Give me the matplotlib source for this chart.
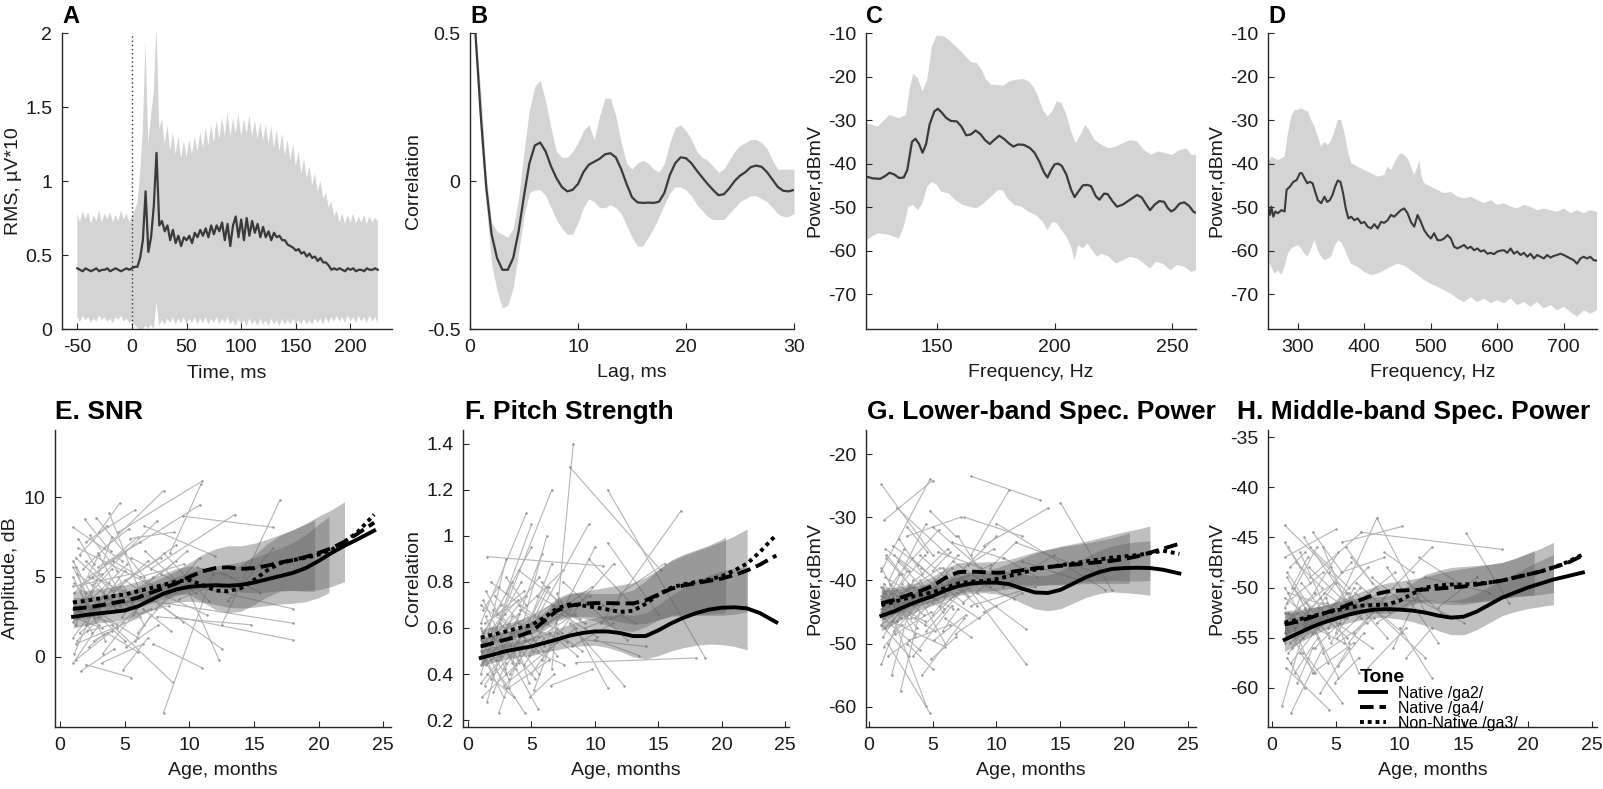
import numpy as np
import matplotlib
matplotlib.use('Agg')
import matplotlib.pyplot as plt
from matplotlib.ticker import FuncFormatter
from matplotlib.lines import Line2D

plt.rcParams['font.family'] = ['Liberation Sans', 'DejaVu Sans']
plt.rcParams['axes.unicode_minus'] = False

# ---------------- Panel A: RMS over time ----------------
A_mean = [0.41,0.40,0.39,0.41,0.40,0.39,0.40,0.41,0.39,0.40,0.40,0.41,0.39,0.40,0.41,0.40,0.39,0.40,0.41,0.40,0.41,0.42,0.42,
          0.48,0.60,0.93,0.52,0.62,0.83,1.19,0.70,0.73,0.66,0.70,0.60,0.67,0.58,0.63,0.56,0.62,0.60,0.63,0.58,0.65,0.62,
          0.67,0.63,0.68,0.62,0.70,0.64,0.70,0.66,0.72,0.60,0.71,0.56,0.70,0.76,0.62,0.74,0.60,0.75,0.63,0.73,0.65,0.71,
          0.62,0.69,0.62,0.66,0.60,0.65,0.62,0.63,0.60,0.60,0.57,0.56,0.55,0.53,0.54,0.51,0.52,0.49,0.51,0.48,0.49,0.46,
          0.48,0.45,0.45,0.43,0.40,0.41,0.40,0.41,0.40,0.39,0.41,0.40,0.41,0.39,0.40,0.40,0.39,0.41,0.40,0.40,0.41,0.40]
A_upper = [0.78,0.72,0.80,0.74,0.79,0.71,0.77,0.73,0.80,0.72,0.78,0.74,0.79,0.72,0.77,0.73,0.80,0.74,0.78,0.72,0.76,0.80,0.85,
           1.05,1.35,1.95,1.25,1.45,1.60,2.05,1.35,1.42,1.25,1.38,1.20,1.33,1.18,1.30,1.15,1.27,1.16,1.28,1.18,1.30,1.20,
           1.33,1.22,1.36,1.24,1.38,1.26,1.41,1.28,1.43,1.30,1.46,1.30,1.42,1.32,1.45,1.30,1.42,1.32,1.44,1.30,1.41,1.28,
           1.40,1.27,1.38,1.25,1.37,1.22,1.34,1.20,1.32,1.17,1.28,1.14,1.25,1.10,1.20,1.05,1.15,1.02,1.10,0.97,1.05,0.93,
           1.00,0.88,0.92,0.82,0.86,0.76,0.80,0.72,0.78,0.71,0.77,0.72,0.78,0.71,0.76,0.72,0.77,0.71,0.76,0.72,0.75,0.73]
A_lower = [0.08,0.05,0.09,0.06,0.08,0.04,0.07,0.05,0.09,0.06,0.08,0.05,0.07,0.04,0.08,0.06,0.09,0.05,0.07,0.04,0.05,0.03,0.01,
           0.00,0.00,0.02,0.00,0.03,0.00,0.18,0.02,0.06,0.03,0.07,0.04,0.08,0.03,0.07,0.04,0.08,0.03,0.07,0.04,
           0.08,0.03,0.07,0.04,0.08,0.03,0.07,0.04,0.08,0.03,0.07,0.04,0.08,0.03,0.06,0.02,0.07,0.03,0.06,0.02,
           0.07,0.03,0.06,0.02,0.07,0.03,0.06,0.02,0.07,0.03,0.06,0.02,0.07,0.03,0.06,0.03,0.07,0.03,0.06,0.03,
           0.07,0.03,0.06,0.03,0.07,0.04,0.07,0.03,0.08,0.04,0.08,0.05,0.09,0.05,0.08,0.04,0.09,0.05,0.08,0.04,
           0.09,0.05,0.08,0.04,0.09,0.05,0.08,0.04]
A_t_start, A_t_end = -50, 225

# ---------------- Panel B: autocorrelation ----------------
B_lag = [0.5,1.0,1.5,2.0,2.5,3.0,3.5,4.0,4.5,5.0,5.5,6.0,6.5,7.0,7.5,8.0,8.5,9.0,9.5,10.0,
         10.5,11.0,11.5,12.0,12.5,13.0,13.5,14.0,14.5,15.0,15.5,16.0,16.5,17.0,17.5,18.0,18.5,19.0,19.5,20.0,
         20.5,21.0,21.5,22.0,22.5,23.0,23.5,24.0,24.5,25.0,25.5,26.0,26.5,27.0,27.5,28.0,28.5,29.0,29.5,30.0]
B_mean = [0.50,0.22,-0.02,-0.18,-0.26,-0.30,-0.30,-0.26,-0.17,-0.05,0.06,0.12,0.13,0.10,0.05,0.01,-0.02,-0.035,-0.03,-0.01,
          0.03,0.055,0.065,0.075,0.09,0.094,0.08,0.04,-0.01,-0.055,-0.072,-0.074,-0.073,-0.074,-0.07,-0.04,0.02,0.06,0.08,0.077,
          0.06,0.035,0.012,-0.01,-0.03,-0.048,-0.045,-0.025,0.0,0.018,0.03,0.047,0.052,0.048,0.03,0.005,-0.02,-0.033,-0.035,-0.03]
B_upper = [0.52,0.30,0.02,-0.14,-0.17,-0.18,-0.19,-0.16,-0.06,0.10,0.24,0.32,0.34,0.27,0.18,0.10,0.08,0.08,0.10,0.13,
           0.17,0.19,0.14,0.22,0.28,0.28,0.22,0.13,0.06,0.04,0.06,0.07,0.06,0.04,0.03,0.06,0.13,0.18,0.19,0.17,
           0.14,0.10,0.08,0.07,0.05,0.03,0.04,0.07,0.10,0.12,0.13,0.14,0.14,0.13,0.11,0.07,0.04,0.04,0.04,0.04]
B_lower = [0.48,0.14,-0.08,-0.28,-0.37,-0.43,-0.42,-0.36,-0.24,-0.12,-0.04,-0.03,-0.03,-0.05,-0.09,-0.13,-0.16,-0.18,-0.18,-0.14,
           -0.09,-0.06,-0.07,-0.09,-0.09,-0.08,-0.09,-0.11,-0.15,-0.19,-0.22,-0.22,-0.19,-0.16,-0.12,-0.08,-0.04,-0.02,-0.02,-0.03,
           -0.05,-0.08,-0.10,-0.12,-0.13,-0.13,-0.13,-0.11,-0.09,-0.07,-0.06,-0.05,-0.05,-0.06,-0.07,-0.09,-0.11,-0.12,-0.12,-0.11]

# ---------------- Panel C: lower-band spectrum ----------------
C_mean_f = [120,123,126,128,130,132,134,136,137.5,139.5,141,142.5,144,145.5,147,149,150.5,152,154,156,
            158.5,160.5,162.5,164.5,166.5,168.5,170.5,172.5,174.5,176.5,178.5,180.5,182.5,184.5,187,189.5,191.5,193.5,195.5,197,
            198.5,200,201.5,203,205,207,208.5,210,212,214,215.5,217.5,219,221,222.5,224.5,226.5,229,232,235,
            237,239,240.5,242.5,244.5,246.5,248,249.5,251,253,255,257,259,260]
C_mean_v = [-43.0,-43.4,-43.5,-42.9,-42.1,-42.5,-43.3,-43.2,-41.5,-35.0,-34.3,-35.5,-37.5,-35.5,-31.0,-28.0,-27.4,-28.2,-29.5,-30.2,
            -30.3,-31.5,-33.5,-33.3,-32.4,-33.2,-34.6,-35.5,-34.5,-33.6,-34.3,-35.3,-36.1,-35.6,-35.7,-36.4,-37.5,-39.5,-42.0,-43.2,
            -41.5,-40.2,-40.0,-40.5,-42.5,-46.0,-47.7,-46.5,-45.0,-44.9,-45.2,-47.5,-48.3,-46.9,-47.0,-48.6,-49.9,-49.4,-48.3,-47.2,
            -47.8,-49.5,-50.7,-49.4,-48.6,-48.8,-50.2,-51.0,-50.5,-49.2,-48.9,-49.7,-51.1,-51.3]
C_up_f = [120,125,130,134,137,138.5,140,142,144,146,148,150,153,155,158,161,163,165,167,169,171,173,175,178,181,184,187,189,191,193,
          195,197,199,201,203,205,207,209,211,213,215,217,220,223,226,229,232,235,238,241,244,247,250,253,256,258,260]
C_up_v = [-30.7,-31.5,-28.8,-29.6,-28.8,-23,-19.4,-20.4,-23.4,-20.7,-13,-10.6,-10.8,-11.5,-13,-14.6,-15.8,-16.8,-16.9,-18.4,
          -20.7,-21.9,-21.9,-22.1,-21.1,-20.7,-20.6,-21.1,-22.3,-24.6,-27.6,-29.2,-28,-25.7,-26.1,-28.8,-32.6,-35.3,-33.4,-31.1,
          -32.6,-34.6,-35.7,-36.5,-36.1,-35.3,-34.6,-34.9,-36.9,-38,-37.2,-37.6,-38,-36.9,-36.5,-38,-38]
C_lo_f = [120,125,130,134,136,138,140,142,144,146,148,150,152,155,158,161,164,167,170,173,176,178,180,183,186,189,192,195,197,199,
          201,203,205,207,208.5,210,212,214,216,218,220,223,226,229,232,235,238,240.5,243,246,249,252,255,258,260]
C_lo_v = [-57.6,-56,-56.4,-57.2,-54.5,-49.9,-49.5,-50.7,-49.1,-45.3,-44.2,-44.9,-46.5,-46.8,-48.4,-49.5,-49.9,-50.3,-49.1,-47.6,
          -46.1,-46.1,-48,-49.5,-49.9,-51.1,-51.8,-53.4,-55.3,-53.4,-53.7,-55.3,-56.8,-59.1,-62.2,-58.7,-59.5,-58.3,-59.9,-61.4,
          -60.7,-61.4,-63,-62.2,-61.4,-61.8,-63,-64.1,-62.6,-63,-64.5,-63.3,-63.7,-64.9,-64.5]

# ---------------- Panel D: middle-band spectrum ----------------
D_mean_f = [255,258,260,263,266,270,275,280,283,288,293,298,303,306,310,314,318,322,326,330,335,340,344,348,352,356,360,364,368,372,376,
            380,385,390,395,400,405,410,415,420,425,430,435,440,445,450,455,460,465,470,475,480,485,490,495,500,505,510,515,520,525,
            530,535,540,545,550,555,560,565,570,575,580,585,590,595,600,605,610,615,620,625,630,635,640,645,650,655,660,665,670,675,
            680,685,690,695,700,705,710,715,720,725,730,735,740,745,750]
D_mean_v = [-49.9,-51.8,-49.9,-52.2,-51.0,-51.4,-50.7,-51.0,-46.0,-45.3,-44.2,-43.8,-42.2,-42.2,-43.4,-44.5,-44.2,-44.5,-46.5,-48.4,
            -49.1,-47.6,-48.8,-48.4,-47.2,-45.3,-43.9,-44.2,-46.8,-50.3,-52.6,
            -52.2,-53.0,-52.6,-53.7,-53.4,-54.5,-54.9,-53.9,-54.9,-53.4,-53.6,-53.0,-51.8,-52.2,-51.4,-50.7,-50.3,-51.4,-53.4,-54.5,
            -51.8,-53.4,-55.3,-56.4,-57.2,-56.0,-57.6,-57.6,-57.2,-56.4,-57.2,-59.1,-59.5,-59.1,-58.7,-59.5,-59.1,-59.9,-59.5,-60.2,
            -59.9,-60.7,-60.5,-60.8,-60.2,-60.0,-59.9,-60.5,-59.5,-60.7,-60.2,-61.0,-60.5,-61.4,-60.7,-61.8,-61.0,-61.4,-61.8,-61.0,
            -61.6,-61.2,-61.0,-60.7,-61.0,-61.4,-61.8,-62.2,-63.0,-61.8,-61.4,-61.8,-61.4,-62.2,-62.3]
D_up_f = [255,260,270,280,285,290,295,300,305,310,315,320,325,330,335,340,345,350,355,360,365,370,375,380,385,390,400,410,420,430,
          435,440,445,450,455,460,465,470,475,480,483,486,490,500,510,520,530,540,550,560,570,580,590,600,610,620,630,640,650,660,
          670,680,690,700,710,720,730,740,750]
D_up_v = [-39.9,-38.4,-39.2,-38.4,-33.0,-29.2,-27.7,-27.7,-27.3,-27.7,-28.0,-30.0,-31.5,-33.8,-36.1,-35.0,-35.7,-34.6,-32.6,-30.0,
          -30.0,-33.0,-36.9,-39.9,-40.3,-40.7,-41.5,-42.2,-43.0,-42.6,-40.7,-41.5,-39.9,-38.4,-37.6,-38.0,-38.8,-40.7,-42.6,-40.7,
          -39.2,-43.0,-44.5,-45.3,-46.1,-46.8,-46.5,-47.6,-48.0,-47.6,-48.4,-49.1,-48.4,-49.5,-49.1,-49.9,-50.3,-49.5,-49.9,-50.7,
          -50.3,-50.7,-51.1,-50.3,-51.4,-50.7,-51.4,-50.7,-51.1]
D_lo_f = [255,260,265,270,275,280,285,290,295,300,305,310,315,320,325,330,335,340,345,350,355,360,365,370,375,380,390,400,410,420,
          430,440,450,460,470,480,490,500,510,520,530,540,550,560,570,580,590,600,610,620,630,640,650,660,670,680,690,700,710,720,
          730,740,750]
D_lo_v = [-62.2,-63.7,-65.3,-64.5,-65.6,-63.7,-60.7,-59.5,-59.1,-58.7,-59.5,-60.7,-61.4,-59.5,-57.6,-59.9,-61.4,-62.2,-61.8,-61.4,
          -59.1,-57.6,-58.0,-59.5,-61.4,-63.0,-63.7,-64.9,-65.6,-65.3,-64.5,-63.7,-63.0,-63.4,-64.5,-65.6,-66.8,-67.6,-68.3,-69.1,
          -69.9,-71.0,-71.8,-70.7,-71.8,-71.0,-72.1,-71.4,-72.1,-71.0,-72.5,-71.8,-72.9,-71.8,-73.3,-72.5,-73.7,-72.9,-74.1,-75.2,
          -73.7,-74.5,-73.7]

# ---------------- Panels E-H: development with age ----------------
AGE = [1,2,3,4,5,6,7,8,9,10,11,12,13,14,15,16,17,18,19,20,21,22,23,24.3]
TONES = ['Native /ga2/', 'Native /ga4/', 'Non-Native /ga3/']

E_ga2 = [2.5,2.62,2.72,2.8,2.9,3.15,3.55,3.95,4.22,4.38,4.45,4.48,4.45,4.5,4.65,4.85,5.05,5.25,5.55,6.0,6.5,6.95,7.35,7.9]
E_ga4 = [3.0,3.08,3.2,3.35,3.5,3.7,4.0,4.3,4.6,5.0,5.35,5.55,5.6,5.5,5.55,5.7,5.9,6.05,6.25,6.5,6.8,7.2,7.7,8.4]
E_ga3 = [3.4,3.5,3.65,3.78,3.9,4.1,4.3,4.5,4.72,4.8,4.5,4.15,4.1,4.3,4.8,5.4,5.85,6.05,6.2,6.4,6.7,7.2,7.8,8.9]
E_ci = [0.7,0.65,0.6,0.6,0.6,0.62,0.65,0.7,0.8,0.9,1.05,1.2,1.35,1.45,1.55,1.65,1.75,1.9,2.1,2.3,2.4,2.5,2.6,2.7]
E_band_end = [20.8, 22.0, 19.7]

F_ga2 = [0.47,0.485,0.5,0.51,0.52,0.535,0.55,0.567,0.578,0.585,0.585,0.578,0.565,0.565,0.59,0.62,0.645,0.665,0.68,0.688,0.69,0.685,0.665,0.625]
F_ga4 = [0.52,0.535,0.55,0.565,0.585,0.63,0.675,0.697,0.705,0.708,0.708,0.707,0.707,0.72,0.745,0.77,0.785,0.795,0.805,0.815,0.83,0.85,0.875,0.915]
F_ga3 = [0.558,0.572,0.585,0.6,0.613,0.645,0.685,0.703,0.698,0.69,0.68,0.67,0.675,0.705,0.745,0.775,0.79,0.8,0.81,0.825,0.85,0.88,0.93,1.005]
F_ci = [0.035,0.035,0.035,0.035,0.04,0.04,0.045,0.05,0.055,0.06,0.07,0.08,0.09,0.1,0.11,0.12,0.13,0.14,0.15,0.16,0.17,0.18,0.19,0.2]
F_band_end = [22.0, 22.0, 20.3]

G_ga2 = [-45.6,-44.9,-44.0,-43.2,-42.5,-41.6,-40.9,-40.5,-40.35,-40.35,-40.6,-41.3,-41.9,-42.0,-41.5,-40.5,-39.5,-38.7,-38.2,-38.05,-38.0,-38.05,-38.3,-38.9]
G_ga4 = [-43.6,-43.1,-42.4,-41.7,-40.9,-39.6,-38.7,-38.6,-38.7,-38.8,-38.7,-38.4,-38.1,-37.9,-37.7,-37.5,-37.3,-37.1,-36.9,-36.6,-36.2,-35.6,-35.0,-34.2]
G_ga3 = [-43.9,-43.4,-42.8,-42.3,-41.9,-41.2,-40.5,-40.2,-40.1,-39.8,-39.3,-38.8,-38.3,-37.9,-37.6,-37.3,-37.0,-36.7,-36.4,-36.2,-36.0,-35.7,-35.3,-35.8]
G_ci = [2.4,2.0,1.7,1.5,1.5,1.5,1.5,1.5,1.6,1.8,2.0,2.3,2.6,2.8,3.0,3.1,3.2,3.4,3.6,3.9,4.1,4.3,4.5,4.6]
G_band_end = [22.0, 20.4, 22.0]

H_ga2 = [-55.2,-54.6,-54.0,-53.5,-53.1,-52.7,-52.4,-52.2,-52.15,-52.2,-52.3,-52.5,-52.8,-53.0,-52.9,-52.4,-51.7,-51.0,-50.5,-50.0,-49.6,-49.2,-48.9,-48.5]
H_ga4 = [-53.7,-53.4,-53.0,-52.6,-52.2,-51.7,-51.2,-50.7,-50.4,-50.3,-50.25,-50.2,-50.1,-50.0,-49.9,-49.7,-49.5,-49.3,-49.0,-48.7,-48.4,-48.0,-47.6,-46.8]
H_ga3 = [-53.5,-53.2,-52.9,-52.6,-52.3,-52.0,-51.8,-51.75,-51.7,-51.3,-50.6,-50.0,-49.8,-49.7,-49.7,-49.6,-49.5,-49.3,-49.0,-48.7,-48.4,-48.0,-47.5,-46.7]
H_ci = [1.2,1.0,0.9,0.8,0.8,0.8,0.8,0.8,0.85,0.95,1.1,1.3,1.5,1.7,1.8,1.8,1.8,1.8,1.9,2.1,2.3,2.5,2.7,2.8]
H_band_end = [22.0, 20.5, 22.0]

# individual infants: (age1, value1, age2, value2)
E_traj = [(1.0,8.1,4.8,6.0),(1.2,6.2,5.5,3.0),(1.0,5.0,3.5,1.0),(1.1,4.0,6.0,7.5),(1.3,3.0,4.0,5.5),
          (1.0,2.2,5.0,4.2),(1.5,1.5,4.5,3.5),(1.2,0.8,6.2,2.5),(1.0,-0.4,3.0,2.0),(1.6,-0.9,4.2,0.5),
          (1.4,6.8,7.0,4.5),(2.8,8.7,6.5,5.0),(2.0,7.2,5.8,9.2),(1.8,5.5,8.0,10.4),(2.5,4.5,7.5,8.5),
          (3.0,3.5,9.0,7.0),(2.2,2.5,6.8,6.0),(2.6,1.0,7.0,3.0),(3.3,0.2,5.8,2.8),(2.0,-0.5,5.5,-1.3),
          (3.5,5.8,10.8,9.5),(4.0,2.0,8.7,-1.6),(3.8,9.0,6.2,4.0),(4.5,7.8,11.0,11.0),(5.0,4.8,9.5,2.2),
          (4.2,3.2,8.2,5.5),(5.5,6.2,10.5,4.0),(6.0,1.5,10.8,6.2),(6.5,8.2,12.0,6.3),(6.8,3.8,12.5,0.5),
          (7.2,0.8,11.0,-0.7),(7.0,5.5,13.5,8.9),(8.0,-3.5,11.8,5.2),(7.5,2.5,14.8,2.0),(8.5,6.5,10.9,10.8),
          (9.5,8.8,16.5,8.1),(10.0,4.5,18.0,3.0),(7.0,3.5,18.0,2.1),(9.0,2.5,18.0,1.05),(12.5,2.0,17.0,9.8),
          (10.0,4.0,12.3,-0.2),(2.4,3.8,4.0,7.5),(1.2,2.0,2.8,4.8),(1.0,3.5,2.5,1.5),(1.5,4.5,3.2,5.2),
          (3.0,2.5,5.0,1.0),(4.5,5.0,6.5,2.0),(5.2,3.5,8.0,4.5),(2.0,6.0,4.2,4.2),(6.0,4.2,9.0,6.0),
          (8.0,6.5,11.5,3.5),(12.0,5.5,15.5,4.0),(13.0,3.5,16.5,6.8),(1.0,6.0,3.0,3.0),(1.3,1.0,3.6,2.8),
          (2.2,5.0,5.0,6.5),(3.6,1.5,6.0,0.3),(4.8,2.5,7.2,5.0),(1.1,4.6,2.2,3.2),(2.9,6.5,4.6,4.0),
          (1.0,1.2,3.4,3.8),(1.2,5.6,2.6,2.4),(1.4,2.8,5.2,5.8),(1.0,3.0,4.4,2.0),(1.6,4.2,3.0,6.4),
          (1.1,0.2,2.4,2.6),(1.3,5.2,4.6,3.2),(1.8,3.4,6.0,1.2),(1.0,4.4,5.6,5.2),(2.0,2.0,3.8,4.6),
          (2.3,7.6,4.4,5.4),(1.5,6.4,3.6,8.2),(2.7,3.0,5.9,4.0),(3.1,4.8,6.6,3.4),(2.1,1.6,4.9,2.2),
          (3.4,6.8,5.3,8.0),(1.2,-0.2,4.0,1.6),(3.9,4.2,7.8,6.2),(4.4,1.8,6.9,3.8),(2.9,5.6,6.2,7.2),
          (5.6,2.6,8.4,3.2),(4.1,6.0,7.4,4.4),(6.2,5.0,9.6,5.8),(5.1,0.6,7.6,2.0),(6.6,6.6,9.2,4.6),
          (7.4,3.0,10.2,4.8),(3.2,-0.4,6.4,0.8),(1.9,8.6,3.9,6.6),(5.4,7.4,8.8,7.8),(8.2,3.8,11.4,2.6),
          (1.3,2.4,3.2,1.8),(2.5,5.0,4.3,3.0),(1.7,3.6,2.9,2.6),(3.6,3.8,5.0,5.4),(4.6,4.4,5.9,3.0),
          (1.0,5.6,2.0,4.0),(2.2,0.6,3.4,1.4),(5.8,1.0,7.0,2.6),(6.4,3.0,8.6,1.6),(7.8,5.2,9.8,6.6),
          (9.2,3.6,12.2,4.6),(10.6,5.6,13.2,5.0),(4.9,-0.8,6.8,1.2),(1.4,7.4,2.6,5.8),(3.0,7.8,4.6,9.6)]
F_traj = [(1.0,0.62,4.6,1.10),(1.2,0.45,6.6,1.20),(1.0,0.55,5.0,0.95),(1.5,0.91,10.6,0.87),(1.0,0.40,3.5,0.80),
          (1.3,0.35,4.2,0.60),(1.0,0.50,2.8,0.30),(1.6,0.58,3.0,0.90),(1.1,0.30,4.0,0.45),(2.0,0.68,5.5,0.50),
          (2.4,0.23,4.5,0.55),(1.8,0.80,6.0,0.62),(1.2,0.72,3.8,0.42),(2.2,0.42,4.5,0.23),(3.0,0.50,5.8,0.92),
          (3.2,0.62,7.5,0.85),(2.5,0.55,5.5,0.25),(3.5,0.45,6.2,1.00),(4.0,0.70,7.0,0.48),(2.8,0.35,8.5,0.60),
          (4.5,0.58,6.6,0.88),(5.0,0.40,9.0,0.72),(6.6,0.42,8.3,1.40),(8.0,1.30,15.2,0.85),(11.0,1.20,18.7,0.47),
          (5.5,0.65,9.5,1.05),(6.0,0.52,10.0,0.95),(7.0,0.75,11.0,0.34),(8.0,0.62,12.3,0.35),(9.0,0.55,14.0,0.52),
          (10.5,0.62,16.8,1.11),(9.5,0.90,13.0,0.70),(11.0,0.97,15.0,0.66),(8.5,0.45,18.0,0.47),(12.0,0.75,15.5,0.88),
          (7.5,0.80,12.5,0.55),(10.0,0.55,13.5,0.48),(4.0,0.85,8.0,0.68),(3.0,0.75,5.0,1.05),(1.4,0.65,3.2,0.38),
          (5.2,0.33,7.0,0.60),(6.5,0.35,9.8,0.42),(2.0,0.50,3.5,0.65),(1.5,0.28,2.6,0.50),(4.8,0.48,6.8,0.70),
          (9.0,0.72,11.5,0.88),(7.0,0.58,9.0,0.50),(3.6,0.58,4.8,0.36),(2.2,0.60,4.2,0.80),(5.8,0.80,7.8,0.66),
          (1.0,0.44,2.5,0.58),(1.3,0.52,3.0,0.40),(1.8,0.38,3.6,0.50),(2.6,0.48,4.0,0.66),(1.0,0.60,2.0,0.48),
          (3.3,0.40,5.2,0.55),(1.2,0.68,2.4,0.78),(4.0,0.52,5.6,0.40),(2.0,0.32,3.0,0.45),(5.0,0.62,6.4,0.78),
          (1.0,0.36,3.4,0.52),(1.2,0.58,2.6,0.70),(1.4,0.44,5.2,0.66),(1.0,0.70,4.4,0.56),(1.6,0.48,3.0,0.34),
          (1.1,0.52,2.4,0.62),(1.3,0.62,4.6,0.74),(1.8,0.46,6.0,0.58),(1.0,0.48,5.6,0.82),(2.0,0.56,3.8,0.44),
          (2.3,0.66,4.4,0.76),(1.5,0.40,3.6,0.30),(2.7,0.52,5.9,0.64),(3.1,0.60,6.6,0.70),(2.1,0.74,4.9,0.58),
          (3.4,0.50,5.3,0.38),(1.2,0.54,4.0,0.46),(3.9,0.62,7.8,0.54),(4.4,0.44,6.9,0.62),(2.9,0.42,6.2,0.78),
          (5.6,0.56,8.4,0.66),(4.1,0.68,7.4,0.58),(6.2,0.62,9.6,0.74),(5.1,0.50,7.6,0.44),(6.6,0.70,9.2,0.62),
          (7.4,0.66,10.2,0.56),(3.2,0.34,6.4,0.46),(1.9,0.60,3.9,0.72),(5.4,0.74,8.8,0.64),(8.2,0.52,11.4,0.62),
          (1.3,0.46,3.2,0.56),(2.5,0.62,4.3,0.52),(1.7,0.56,2.9,0.66),(3.6,0.52,5.0,0.62),(4.6,0.60,5.9,0.50),
          (1.0,0.52,2.0,0.40),(2.2,0.46,3.4,0.58),(5.8,0.46,7.0,0.54),(6.4,0.58,8.6,0.48),(7.8,0.70,9.8,0.78),
          (9.2,0.60,12.2,0.66),(10.6,0.70,13.2,0.62),(4.9,0.30,6.8,0.40),(1.4,0.76,2.6,0.64),(3.0,0.82,4.6,0.70)]
G_traj = [(1.0,-24.8,5.0,-36.0),(1.0,-38.5,4.8,-24.0),(1.2,-30.5,5.0,-24.2),(1.0,-45.0,4.5,-31.0),(1.3,-35.0,6.0,-42.0),
          (1.0,-53.3,3.5,-40.0),(1.5,-50.0,4.8,-61.0),(1.2,-42.0,4.5,-59.8),(1.8,-55.0,3.0,-46.0),(2.0,-48.0,6.5,-38.0),
          (2.5,-57.5,4.0,-45.0),(1.0,-47.0,3.2,-52.0),(2.2,-28.5,6.2,-36.0),(3.0,-33.0,7.2,-30.0),(3.5,-41.0,6.0,-50.0),
          (2.8,-38.0,5.5,-32.0),(4.0,-36.0,8.5,-44.0),(3.2,-45.0,7.0,-36.0),(1.6,-40.0,2.8,-35.0),(4.5,-48.0,8.0,-40.0),
          (5.0,-31.5,9.0,-38.5),(6.0,-46.0,8.0,-49.0),(5.5,-42.0,10.0,-33.0),(7.5,-30.0,12.0,-33.0),(8.0,-23.5,13.4,-27.3),
          (8.0,-36.0,11.0,-25.7),(9.0,-34.5,14.0,-28.6),(7.0,-39.0,12.3,-53.2),(8.5,-42.0,12.3,-47.7),(9.5,-38.0,11.5,-34.0),
          (10.0,-31.0,18.5,-41.5),(15.0,-27.7,19.0,-41.5),(11.5,-34.0,18.0,-39.0),(8.0,-44.0,13.0,-41.0),(6.5,-34.0,10.5,-36.5),
          (3.5,-52.0,6.5,-44.0),(2.0,-44.0,5.2,-48.0),(4.2,-55.0,7.5,-46.0),(5.8,-38.0,7.8,-42.5),(1.4,-36.5,3.8,-42.0),
          (9.0,-45.0,12.0,-42.0),(12.0,-37.0,16.5,-40.0),(6.8,-48.5,10.0,-44.0),(3.0,-50.0,5.0,-54.0),(1.1,-41.0,2.5,-46.0),
          (7.0,-33.0,9.5,-41.0),(5.0,-45.5,7.0,-40.0),(2.4,-33.5,4.2,-39.0),(10.5,-41.0,14.5,-36.0),(4.8,-29.0,6.8,-33.0),
          (1.0,-43.0,2.4,-39.0),(1.3,-47.5,3.0,-44.0),(1.8,-42.0,3.6,-48.5),(2.6,-40.5,4.4,-36.0),(1.0,-38.0,2.2,-42.5),
          (3.3,-46.0,5.2,-41.0),(1.2,-50.5,2.6,-47.0),(4.0,-40.0,5.8,-45.0),(2.0,-36.0,3.2,-38.5),(5.0,-38.5,6.4,-35.5),
          (1.0,-47.0,3.4,-43.0),(1.2,-40.5,2.6,-44.5),(1.4,-45.5,5.2,-40.0),(1.0,-42.5,4.4,-46.5),(1.6,-44.0,3.0,-38.5),
          (1.1,-49.0,2.4,-45.0),(1.3,-39.5,4.6,-43.5),(1.8,-46.5,6.0,-50.5),(1.0,-44.5,5.6,-38.0),(2.0,-43.5,3.8,-47.5),
          (2.3,-37.0,4.4,-41.5),(1.5,-52.0,3.6,-49.0),(2.7,-45.0,5.9,-42.5),(3.1,-40.5,6.6,-44.5),(2.1,-48.5,4.9,-45.0),
          (3.4,-36.5,5.3,-40.0),(1.2,-46.0,4.0,-51.0),(3.9,-43.0,7.8,-39.0),(4.4,-47.0,6.9,-42.0),(2.9,-41.5,6.2,-35.0),
          (5.6,-44.0,8.4,-40.5),(4.1,-38.0,7.4,-43.5),(6.2,-41.0,9.6,-37.5),(5.1,-49.5,7.6,-45.5),(6.6,-37.0,9.2,-40.5),
          (7.4,-43.5,10.2,-39.0),(3.2,-49.5,6.4,-47.0),(1.9,-34.5,3.9,-37.5),(5.4,-35.5,8.8,-38.0),(8.2,-40.0,11.4,-43.0),
          (1.3,-44.5,3.2,-41.0),(2.5,-42.0,4.3,-45.5),(1.7,-40.5,2.9,-43.0),(3.6,-46.0,5.0,-43.5),(4.6,-41.5,5.9,-44.5),
          (1.0,-41.0,2.0,-44.0),(2.2,-46.5,3.4,-43.5),(5.8,-48.0,7.0,-44.5),(6.4,-43.0,8.6,-46.0),(7.8,-37.5,9.8,-35.0),
          (9.2,-40.5,12.2,-38.0),(10.6,-36.5,13.2,-39.5),(4.9,-52.5,6.8,-49.0),(1.4,-36.0,2.6,-39.0),(3.0,-31.5,4.6,-35.5)]
H_traj = [(1.0,-43.8,6.0,-50.0),(1.0,-47.0,5.0,-44.2),(1.2,-48.5,4.5,-55.0),(1.0,-52.0,3.5,-46.0),(1.3,-56.5,5.5,-51.0),
          (0.8,-61.8,3.0,-52.0),(1.5,-62.5,4.0,-56.0),(1.1,-58.0,4.5,-62.2),(1.8,-54.0,6.2,-47.5),(2.0,-50.5,5.2,-59.0),
          (2.5,-45.0,6.5,-52.5),(1.4,-53.0,3.2,-58.5),(2.8,-57.0,5.5,-61.5),(3.0,-49.0,7.0,-44.5),(3.5,-53.5,7.5,-48.0),
          (2.2,-46.5,4.0,-51.5),(4.0,-56.5,8.0,-53.0),(4.5,-48.5,9.0,-55.0),(5.0,-52.0,8.2,-43.1),(5.5,-45.5,10.2,-43.9),
          (6.0,-55.5,9.5,-50.0),(7.0,-44.5,18.0,-46.2),(6.5,-50.5,12.0,-57.0),(8.2,-43.1,12.0,-52.5),(8.0,-52.0,12.5,-46.0),
          (9.0,-48.0,13.0,-55.5),(10.0,-54.0,12.5,-59.0),(11.0,-51.0,15.0,-53.5),(15.2,-44.6,18.5,-51.5),(12.0,-49.0,17.0,-50.5),
          (9.5,-56.0,11.5,-50.5),(7.5,-58.0,10.5,-54.0),(3.8,-60.5,6.0,-56.0),(1.6,-50.0,2.8,-47.0),(5.2,-57.8,7.2,-54.5),
          (3.2,-44.5,5.5,-48.5),(6.2,-47.0,8.5,-50.5),(4.2,-51.0,6.8,-58.5),(2.4,-55.0,4.8,-53.0),(8.8,-46.5,11.0,-48.5),
          (11.5,-47.0,14.5,-49.5),(13.0,-52.0,16.0,-49.0),(1.0,-55.5,2.2,-51.0),(5.8,-46.0,7.8,-49.5),(10.5,-57.0,12.5,-54.0),
          (1.0,-50.0,2.4,-53.0),(1.3,-46.0,3.0,-49.5),(1.8,-58.5,3.6,-55.0),(2.6,-52.0,4.4,-57.5),(1.0,-45.5,2.2,-48.0),
          (3.3,-50.5,5.2,-46.5),(1.2,-57.0,2.6,-60.0),(4.0,-46.0,5.8,-51.5),(2.0,-59.5,3.2,-56.0),(5.0,-54.5,6.4,-50.0),
          (1.0,-53.5,3.4,-50.5),(1.2,-49.0,2.6,-52.0),(1.4,-55.5,5.2,-52.5),(1.0,-51.0,4.4,-54.5),(1.6,-56.0,3.0,-53.0),
          (1.1,-54.0,2.4,-56.5),(1.3,-50.5,4.6,-52.0),(1.8,-55.0,6.0,-50.5),(1.0,-52.5,5.6,-55.5),(2.0,-53.5,3.8,-51.0),
          (2.3,-49.5,4.4,-53.0),(1.5,-57.5,3.6,-54.0),(2.7,-51.5,5.9,-55.0),(3.1,-54.5,6.6,-51.5),(2.1,-52.0,4.9,-49.5),
          (3.4,-56.0,5.3,-53.5),(1.2,-51.5,4.0,-48.5),(3.9,-52.5,7.8,-56.0),(4.4,-54.0,6.9,-50.0),(2.9,-48.0,6.2,-52.0),
          (5.6,-53.0,8.4,-50.5),(4.1,-50.5,7.4,-53.5),(6.2,-52.0,9.6,-48.5),(5.1,-55.0,7.6,-52.0),(6.6,-49.5,9.2,-52.5),
          (7.4,-51.5,10.2,-54.5),(3.2,-58.5,6.4,-55.5),(1.9,-47.5,3.9,-50.0),(5.4,-48.5,8.8,-47.0),(8.2,-53.5,11.4,-51.0),
          (1.3,-52.5,3.2,-54.5),(2.5,-54.0,4.3,-51.5),(1.7,-50.0,2.9,-52.0),(3.6,-52.0,5.0,-49.5),(4.6,-55.5,5.9,-53.0),
          (1.0,-54.5,2.0,-52.5),(2.2,-56.5,3.4,-58.5),(5.8,-50.5,7.0,-53.0),(6.4,-54.5,8.6,-51.5),(7.8,-49.0,9.8,-51.0),
          (9.2,-52.0,12.2,-50.0),(10.6,-49.5,13.2,-52.5),(4.9,-59.5,6.8,-57.0),(1.4,-48.0,2.6,-46.5),(3.0,-46.0,4.6,-48.0)]

# ---------------- figure ----------------
W, H = 1603, 789
fig = plt.figure(figsize=(W / 100, H / 100), dpi=100)
BOX = {'A': (62, 33, 392, 329), 'B': (470, 33, 794, 329), 'C': (866, 33, 1196, 329), 'D': (1268, 33, 1597, 329),
       'E': (55, 430, 391, 727), 'F': (463, 430, 789, 727), 'G': (866, 430, 1196, 727), 'H': (1268, 430, 1597, 727)}
fmt = FuncFormatter(lambda v, p: f'{v:g}')


def make_ax(key, xlim, ylim, xticks, yticks, xlabel, ylabel, ylab_gap):
    l, t, r, b = BOX[key]
    ax = fig.add_axes([l / W, 1 - b / H, (r - l) / W, (b - t) / H])
    ax.set_xlim(xlim)
    ax.set_ylim(ylim)
    ax.set_xticks(xticks)
    ax.set_yticks(yticks)
    ax.xaxis.set_major_formatter(fmt)
    ax.yaxis.set_major_formatter(fmt)
    for s in ['top', 'right']:
        ax.spines[s].set_visible(False)
    for s in ['left', 'bottom']:
        ax.spines[s].set_color('#262626')
        ax.spines[s].set_linewidth(1.0)
    ax.tick_params(direction='in', length=4, width=0.8, labelsize=14, pad=7, colors='#262626',
                   labelcolor='#1a1a1a')
    ax.set_xlabel(xlabel, fontsize=14, color='#1a1a1a')
    ax.set_ylabel(ylabel, fontsize=14, color='#1a1a1a')
    ax.yaxis.set_label_coords(-ylab_gap / (r - l), 0.5)
    ax.xaxis.set_label_coords(0.5, -35 / (b - t))
    return ax


BAND = '#d4d4d4'
MEAN = '#3a3a3a'

# A
ax = make_ax('A', (-64, 238), (0, 2), [-50, 0, 50, 100, 150, 200], [0, 0.5, 1, 1.5, 2],
             'Time, ms', 'RMS, µV*10', 40)
tA = np.linspace(A_t_start, A_t_end, len(A_mean))
tU = np.linspace(A_t_start, A_t_end, len(A_upper))
tL = np.linspace(A_t_start, A_t_end, len(A_lower))
ax.fill(np.concatenate([tU, tL[::-1]]), np.concatenate([A_upper, A_lower[::-1]]), color=BAND, lw=0)
ax.axvline(0, color='#333333', ls=(0, (1, 2)), lw=1)
ax.plot(tA, A_mean, color=MEAN, lw=1.6)

# B
ax = make_ax('B', (0, 30), (-0.5, 0.5), [0, 10, 20, 30], [-0.5, 0, 0.5], 'Lag, ms', 'Correlation', 48)
ax.fill_between(B_lag, B_lower, B_upper, color=BAND, lw=0)
ax.plot(B_lag, B_mean, color=MEAN, lw=1.6)

# C
ax = make_ax('C', (120, 260), (-78, -10), [150, 200, 250], list(range(-70, -9, 10)),
             'Frequency, Hz', 'Power,dBmV', 43)
ax.fill(np.concatenate([C_up_f, C_lo_f[::-1]]), np.concatenate([C_up_v, C_lo_v[::-1]]), color=BAND, lw=0)
ax.plot(C_mean_f, C_mean_v, color=MEAN, lw=1.6)

# D
ax = make_ax('D', (255, 750), (-78, -10), [300, 400, 500, 600, 700], list(range(-70, -9, 10)),
             'Frequency, Hz', 'Power,dBmV', 43)
ax.fill(np.concatenate([D_up_f, D_lo_f[::-1]]), np.concatenate([D_up_v, D_lo_v[::-1]]), color=BAND, lw=0)
ax.plot(D_mean_f, D_mean_v, color=MEAN, lw=1.5)

STYLES = ['-', (0, (3.5, 1.5)), (0, (1, 1))]


def growth(ax, traj, series, ci, ends):
    for x0, y0, x1, y1 in traj:
        ax.plot([x0, x1], [y0, y1], color='#b5b5b5', lw=0.8, marker='o', ms=1.8,
                mfc='#9a9a9a', mec='none', zorder=1)
    age = np.array(AGE)
    for vals, end in zip(series, ends):
        xs = np.append(age[age < end], end)
        m = np.interp(xs, age, vals)
        h = np.interp(xs, age, ci)
        ax.fill_between(xs, m - h, m + h, color='#606060', alpha=0.4, lw=0, zorder=2)
    for vals, ls in zip(series, STYLES):
        ax.plot(AGE, vals, color='black', lw=2.8, ls=ls, zorder=3)


ages_ticks = [0, 5, 10, 15, 20, 25]
ax = make_ax('E', (-0.4, 25.6), (-4.4, 14.2), ages_ticks, [0, 5, 10], 'Age, months', 'Amplitude, dB', 36)
growth(ax, E_traj, [E_ga2, E_ga4, E_ga3], E_ci, E_band_end)
ax = make_ax('F', (-0.4, 25.3), (0.17, 1.46), ages_ticks, [0.2, 0.4, 0.6, 0.8, 1.0, 1.2, 1.4],
             'Age, months', 'Correlation', 41)
growth(ax, F_traj, [F_ga2, F_ga4, F_ga3], F_ci, F_band_end)
ax = make_ax('G', (-0.2, 25.6), (-63.2, -16.2), ages_ticks, [-60, -50, -40, -30, -20],
             'Age, months', 'Power,dBmV', 43)
growth(ax, G_traj, [G_ga2, G_ga4, G_ga3], G_ci, G_band_end)
axH = make_ax('H', (-0.3, 25.4), (-63.9, -34.3), ages_ticks, [-60, -55, -50, -45, -40, -35],
              'Age, months', 'Power,dBmV', 43)
growth(axH, H_traj, [H_ga2, H_ga4, H_ga3], H_ci, H_band_end)

handles = [Line2D([], [], color='black', lw=2.8, ls=s) for s in STYLES]
axH.legend(handles, TONES, title='Tone', loc='upper left', bbox_to_anchor=(1360 / W, 1 - 669 / H),
           bbox_transform=fig.transFigure, frameon=False, fontsize=11.5,
           title_fontproperties={'weight': 'bold', 'size': 14}, alignment='left',
           handlelength=1.6, handletextpad=0.8, labelspacing=0.0, borderpad=0, borderaxespad=0)

# panel letters and titles
for key in 'ABCD':
    fig.text(BOX[key][0] / W, 1 - 23 / H, key, fontsize=17, weight='bold', va='baseline', ha='left')
for xpx, txt in [(55, 'E. SNR'), (465, 'F. Pitch Strength'), (867, 'G. Lower-band Spec. Power'),
                 (1237, 'H. Middle-band Spec. Power')]:
    fig.text(xpx / W, 1 - 419 / H, txt, fontsize=19, weight='bold', va='baseline', ha='left')

fig.savefig('out.png', dpi=100)
